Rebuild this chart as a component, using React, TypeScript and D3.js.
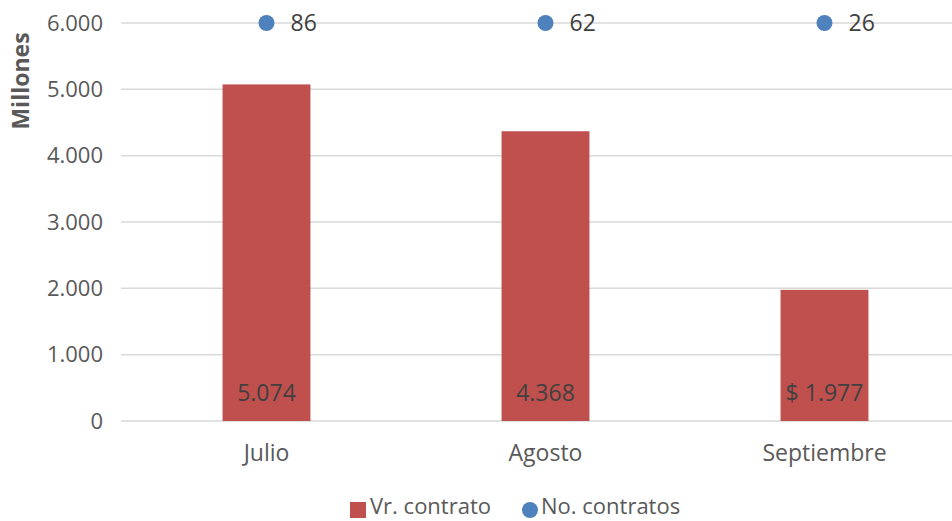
import React from "react";
import * as d3 from "d3";

const categories = ["Julio", "Agosto", "Septiembre"];
const valores = [5074, 4368, 1977];
const valorLabels = ["5.074", "4.368", "$ 1.977"];
const contratos = [86, 62, 26];
const yTicks = [0, 1000, 2000, 3000, 4000, 5000, 6000];

const W = 952;
const H = 521;
const FONT = "'Open Sans', Lato, sans-serif";

export default function App() {
  const y = d3.scaleLinear().domain([0, 6000]).range([421, 23]);
  const x = d3
    .scaleBand<string>()
    .domain(categories)
    .range([127, 964])
    .paddingInner(0.685)
    .paddingOuter(0.3425);
  const fmt = (v: number) => (v === 0 ? "0" : d3.format(",")(v).replace(/,/g, "."));
  const topY = y(y.domain()[1]);

  return (
    <svg width={W} height={H} style={{ position: "absolute", left: 0, top: 0 }}>
      <rect width={W} height={H} fill="#fff" />
      {yTicks.map((t) => (
        <g key={t}>
          <line x1={121} x2={W} y1={y(t)} y2={y(t)} stroke="#D9D9D9" strokeWidth={1.5} />
          <text
            x={103}
            y={y(t)}
            dy="0.35em"
            textAnchor="end"
            fontFamily={FONT}
            fontSize={22}
            fill="#595959"
          >
            {fmt(t)}
          </text>
        </g>
      ))}
      <text
        transform={`translate(29, 81) rotate(-90)`}
        textAnchor="middle"
        fontFamily={FONT}
        fontSize={23}
        fontWeight="bold"
        fill="#595959"
      >
        Millones
      </text>
      {categories.map((c, i) => (
        <g key={c}>
          <rect
            x={x(c)!}
            y={y(valores[i])}
            width={x.bandwidth()}
            height={y(0) - y(valores[i])}
            fill="#C0504D"
          />
          <text
            x={x(c)! + x.bandwidth() / 2}
            y={393}
            dy="0.35em"
            textAnchor="middle"
            fontFamily={FONT}
            fontSize={23}
            fill="#404040"
          >
            {valorLabels[i]}
          </text>
          <text
            x={x(c)! + x.bandwidth() / 2}
            y={453}
            dy="0.35em"
            textAnchor="middle"
            fontFamily={FONT}
            fontSize={23}
            fill="#595959"
          >
            {c}
          </text>
          <circle cx={x(c)! + x.bandwidth() / 2} cy={topY} r={8} fill="#4F81BD" />
          <text
            x={x(c)! + x.bandwidth() / 2 + 24}
            y={topY}
            dy="0.35em"
            fontFamily={FONT}
            fontSize={23}
            fill="#404040"
          >
            {contratos[i]}
          </text>
        </g>
      ))}
      <g>
        <rect x={350} y={502} width={16} height={16} fill="#C0504D" />
        <text x={370} y={514} fontFamily={FONT} fontSize={22} fill="#595959">
          Vr. contrato
        </text>
        <circle cx={530} cy={510} r={8} fill="#4F81BD" />
        <text x={541} y={514} fontFamily={FONT} fontSize={22} fill="#595959">
          No. contratos
        </text>
      </g>
    </svg>
  );
}
